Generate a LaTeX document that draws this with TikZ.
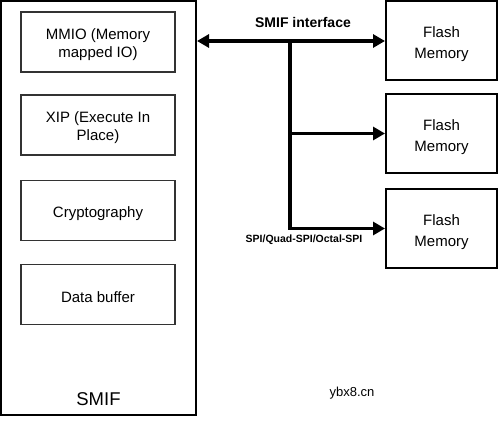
\documentclass[tikz,border=0pt]{standalone}
\usepackage{fontspec}
\setmainfont{Liberation Sans}
\usetikzlibrary{arrows.meta}
\begin{document}
\begin{tikzpicture}[x=1pt, y=-1pt,
  blk/.style={draw=black!80, line width=1.5pt, minimum width=154pt, minimum height=60pt, inner sep=0pt,
    label={[align=center, font=\fontsize{15}{18}\selectfont, yshift=-3pt]center:#1}},
  flash/.style={draw, line width=2pt, minimum width=111pt, minimum height=79pt, inner sep=0pt,
    label={[align=center, font=\fontsize{15}{21}\selectfont, yshift=-3.5pt]center:Flash\\Memory}},
  bus/.style={line width=3.5pt, -{Triangle[length=12pt,width=13pt]}}]
\useasboundingbox (0,0) rectangle (500,425);

% SMIF block
\node[draw, line width=2pt, minimum width=195pt, minimum height=414pt, inner sep=0pt] (smif) at (98.5,208) {};
\node[font=\fontsize{18.5}{22}\selectfont] (smiflbl) at (98.5,399) {SMIF};

\node[blk={MMIO (Memory\\mapped IO)}] (mmio) at (98,42) {};
\node[blk={XIP (Execute In\\Place)}] (xip) at (98,125) {};
\node[blk={Cryptography}] (crypto) at (98,210.5) {};
\node[blk={Data buffer}] (buf) at (98,294.5) {};

% Flash memories
\node[flash] (f1) at (441.5,41) {};
\node[flash] (f2) at (441.5,133.5) {};
\node[flash] (f3) at (441.5,228.5) {};

% bus
\coordinate (br) at (290,41);
\draw[bus, {Triangle[length=12pt,width=13pt]}-{Triangle[length=12pt,width=13pt]}] (smif.east |- f1.west) -- (f1.west);
\draw[bus] (br |- f2.west) -- (f2.west);
\draw[bus] (br) -- (br |- f3.west) -- (f3.west);

\node[font=\bfseries\fontsize{14}{16}\selectfont] (iflbl) at (303,22) {SMIF interface};
\node[font=\bfseries\fontsize{10.5}{12}\selectfont] (spilbl) at (304,240) {SPI/Quad-SPI/Octal-SPI};

\node[font=\fontsize{13}{15}\selectfont] (wm) at (352,393) {ybx8.cn};
\end{tikzpicture}
\end{document}
